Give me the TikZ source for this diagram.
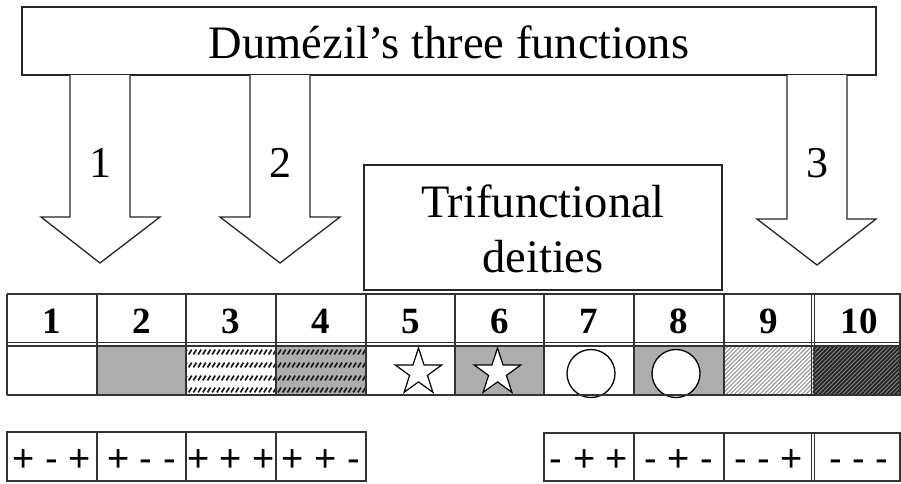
\documentclass[tikz,border=0pt]{standalone}
\usepackage{fontspec}
\setmainfont{Liberation Serif}
\newfontfamily\pmfont{Liberation Sans}
\begin{document}
\begin{tikzpicture}[x=1pt,y=-1pt,
  frame/.style={draw=black!85, line width=1.3pt},
  grid/.style={draw=black!80, line width=1.3pt},
  titletxt/.style={font=\fontsize{46.5}{50}\selectfont, inner sep=0pt, anchor=base},
  armnum/.style={font=\fontsize{44}{48}\selectfont, inner sep=0pt, anchor=base},
  headnum/.style={font=\fontsize{37}{40}\selectfont\bfseries, inner sep=0pt, anchor=base},
  pmtxt/.style={font=\fontsize{38}{40}\selectfont\pmfont, inner sep=0pt, anchor=base},
  halftone/.style={fill=black!32},
  dashmark/.style={draw=black!90, line width=1.7pt},
  starline/.style={draw=black, line width=1.2pt, fill=white, line join=miter},
  starpic/.pic={\path[starline] (0,0) +(-90:24.5) -- +(-54:9.4) -- +(-18:24.5) -- +(18:9.4) -- +(54:24.5) -- +(90:9.4) -- +(126:24.5) -- +(162:9.4) -- +(198:24.5) -- +(234:9.4) -- cycle;},
  ringmark/.style={circle, minimum size=48pt, inner sep=0pt, draw=black, line width=1.3pt, fill=white},
  blockarrow/.style={draw=black!85, line width=1.3pt, fill=white, line join=miter}
]
\useasboundingbox (0,0) rectangle (901,483);

% ---- top box ----
\draw[frame] (22,7) rectangle (876,75);
\node[titletxt] (title) at (449,58) {Dumézil’s three functions};

% ---- block arrows ----
\coordinate (a1) at (100,263);
\coordinate (a2) at (280,263);
\coordinate (a3) at (817,265);
\draw[blockarrow] (70,75) -- (70,217) -- (41,217) -- (a1) -- (160,217) -- (130,217) -- (130,75);
\draw[blockarrow] (250,75) -- (250,217) -- (220,217) -- (a2) -- (340,217) -- (310,217) -- (310,75);
\draw[blockarrow] (787,75) -- (787,219) -- (757,219) -- (a3) -- (876,219) -- (847,219) -- (847,75);
\node[armnum] (n1) at (100,177) {1};
\node[armnum] (n2) at (280,177) {2};
\node[armnum] (n3) at (817,177) {3};

% ---- trifunctional box ----
\draw[frame] (364,165) rectangle (722,290);
\node[titletxt] (tri1) at (543,217) {Trifunctional};
\node[titletxt] (tri2) at (543,272) {deities};

% ---- second row fills ----
\fill[halftone] (97,346) rectangle (186,395);
\fill[halftone] (276,346) rectangle (366,395);
\fill[halftone] (455,346) rectangle (544,395);
\fill[halftone] (634,346) rectangle (724,395);
\fill[black!48] (813,346) rectangle (901,395);
\begin{scope}
  \clip (186,346) rectangle (366,395);
  \foreach \yy in {352,365,378,390}
    \foreach \xx in {184,188.7,...,368}
      \draw[dashmark] (\xx,\yy+2.4) -- (\xx+3,\yy-2.4);
\end{scope}
\begin{scope}
  \clip (724,346) rectangle (813,395);
  \foreach \k in {0,...,36}
    \draw[draw=black!38, line width=1.2pt] (674+\k*4.2,396) -- ++(52,-52);
\end{scope}
\begin{scope}
  \clip (813,346) rectangle (901,395);
  \foreach \k in {0,...,36}
    \draw[draw=black!85, line width=1.8pt] (763+\k*4.2,396) -- ++(52,-52);
\end{scope}
\pic (s5) at (418.5,372.5) {starpic};
\pic (s6) at (497.5,372.5) {starpic};
\node[ringmark] (c7) at (591,373.5) {};
\node[ringmark] (c8) at (676,373.5) {};

% ---- table grid ----
\draw[grid] (7,294) -- (901,294);
\draw[grid] (7,342.5) -- (901,342.5);
\draw[grid] (7,346) -- (901,346);
\draw[grid] (7,395) -- (901,395);
\foreach \xx in {7,97,186,276,366,455,544,634,724}
  \draw[grid] (\xx,294) -- (\xx,395);
\draw[grid] (811.5,294) -- (811.5,395);
\draw[grid] (814.5,294) -- (814.5,395);
\draw[grid] (900,294) -- (900,395);

% header numbers
\foreach \cx/\lab [count=\i] in {52/1,141.5/2,231/3,321/4,410.5/5,499.5/6,589/7,679/8,768.5/9,859/10}
  \node[headnum] (h\i) at (\cx,333) {\lab};

% ---- bottom rows ----
\draw[grid] (7,432) rectangle (366,481);
\foreach \xx in {97,186,276} \draw[grid] (\xx,432) -- (\xx,481);
\draw[grid] (544,433) rectangle (900,481);
\foreach \xx in {634,724} \draw[grid] (\xx,433) -- (\xx,481);
\draw[grid] (811.5,433) -- (811.5,481);
\draw[grid] (814.5,433) -- (814.5,481);

\node[pmtxt] (p1) at (52,471) {+ - +};
\node[pmtxt] (p2) at (141.5,471) {+ - -};
\node[pmtxt] (p3) at (231,471) {+ + +};
\node[pmtxt] (p4) at (321,471) {+ + -};
\node[pmtxt] (p7) at (589,471) {- + +};
\node[pmtxt] (p8) at (679,471) {- + -};
\node[pmtxt] (p9) at (768.5,471) {- - +};
\node[pmtxt] (p10) at (859,471) {- - -};
\end{tikzpicture}
\end{document}
